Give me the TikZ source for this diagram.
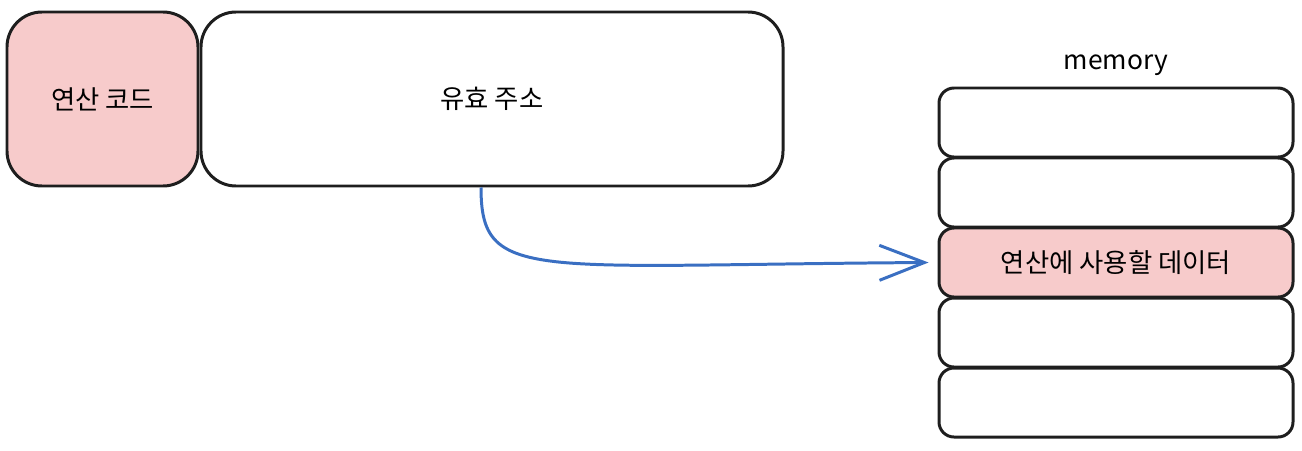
\documentclass[tikz,border=0pt]{standalone}
\usepackage{fontspec}
\setmainfont{Noto Sans CJK KR}
\usepackage{tikz}
\usetikzlibrary{positioning, arrows.meta}
\definecolor{cellpink}{RGB}{247,203,203}
\definecolor{linkblue}{RGB}{58,111,194}
\definecolor{inkblack}{RGB}{30,30,30}
\tikzstyle{field} = [rectangle, rounded corners=0.7cm, draw=inkblack, line width=1.7pt, text centered]
\tikzstyle{cell} = [rectangle, rounded corners=0.3cm, draw=inkblack, line width=1.7pt, minimum width=7.08cm, minimum height=1.38cm, text centered]
\tikzstyle{arrow} = [linkblue, line width=1.7pt, -{Straight Barb[length=0.9cm, width=0.7cm]}]
\tikzstyle{every node}=[font=\fontsize{15}{18}\selectfont, node distance = 1.4cm]

\begin{document}
\begin{tikzpicture}
			\useasboundingbox (0,0) rectangle (26.04,-9.0);
			%명령어 필드
			\node (op) [field, fill=cellpink, minimum width=3.82cm, minimum height=3.48cm] at (2.05,-1.98) {연산 코드};
			\node (addr) [field, minimum width=11.64cm, minimum height=3.48cm] at (9.84,-1.98) {유효 주소};
			%메모리
			\node (mem) at (22.32,-1.3) {memory};
			\node (cell1) [cell] at (22.32,-2.45) {};
			\node (cell2) [cell, below of=cell1] {};
			\node (cell3) [cell, below of=cell2, fill=cellpink] {연산에 사용할 데이터};
			\node (cell4) [cell, below of=cell3] {};
			\node (cell5) [cell, below of=cell4] {};
			%연결
			\draw [arrow] ([xshift=-0.22cm]addr.south) .. controls +(0,-1.9) and (10.6,-5.3) .. ([xshift=-0.18cm]cell3.west);
		\end{tikzpicture}
\end{document}
